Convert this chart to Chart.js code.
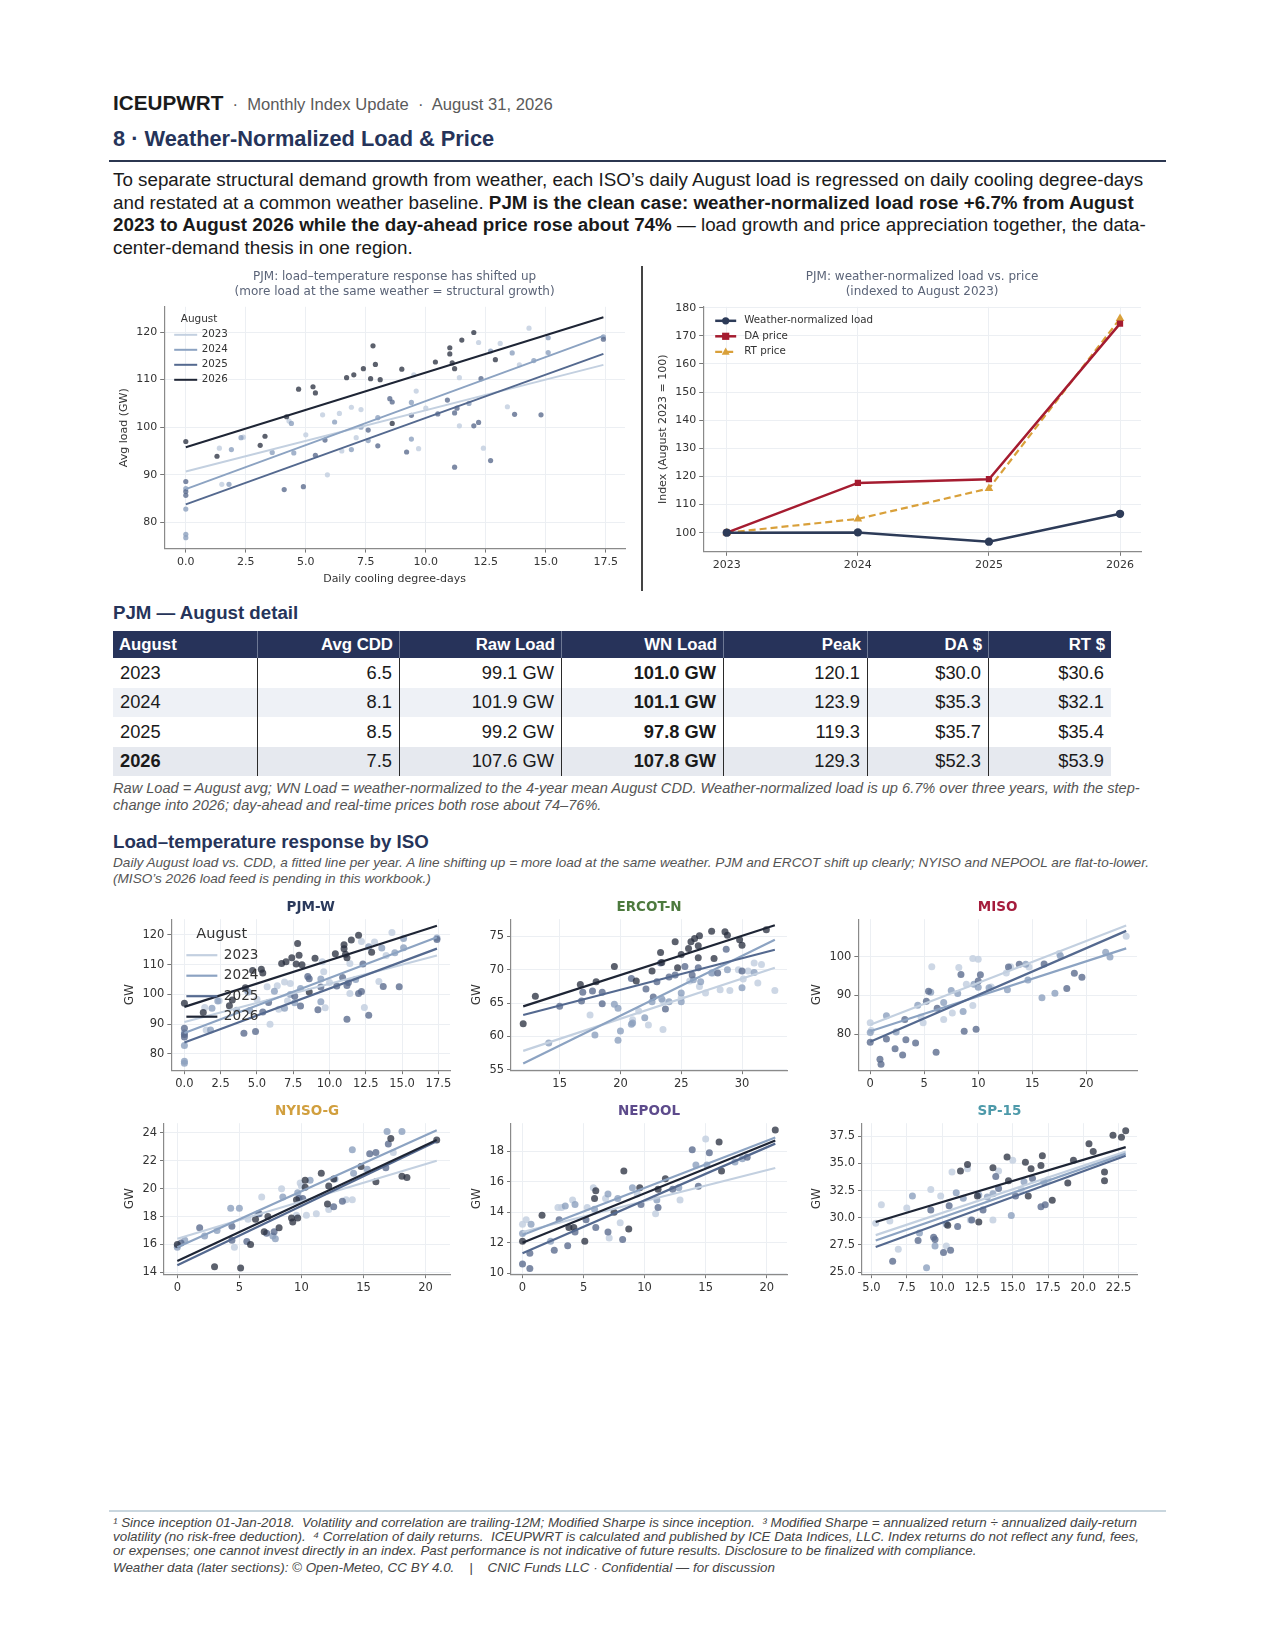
<!DOCTYPE html>
<html><head><meta charset="utf-8">
<script src="https://cdn.jsdelivr.net/npm/chart.js@4.4.1/dist/chart.umd.min.js"></script>
<style>
html,body{margin:0;padding:0;background:#fff;}
body{width:1275px;height:1650px;position:relative;font-family:"Liberation Sans",Arial,sans-serif;color:#1e1e1e;overflow:hidden;}
.abs{position:absolute;white-space:nowrap;}
.navy{color:#26345a;}
.box{position:absolute;}
table.det{position:absolute;left:113px;top:631px;border-collapse:collapse;font-family:"Liberation Sans",Arial,sans-serif;}
table.det th{background:#27335a;color:#fff;font-weight:bold;font-size:16.8px;height:27px;padding:0 6px;text-align:right;border-left:1px solid #6d7894;}
table.det th:first-child{text-align:left;border-left:none;}
table.det td{font-size:18.3px;height:29.5px;padding:0 7px;text-align:right;border-left:1.5px solid #2a2a2a;color:#1a1a1a;}
table.det td:first-child{text-align:left;border-left:none;}
table.det tr.alt td{background:#eef1f6;}
table.det tr.last td{background:#e6e9ef;}
.b{font-weight:bold;}
.note{font-style:italic;color:#555;}
</style></head>
<body>
<div class="abs" style="left:113px;top:90px;line-height:26px;"><span style="font-weight:bold;font-size:20.7px;color:#1b1b1b;">ICEUPWRT</span><span style="font-size:16.6px;color:#5a5a5a;"> &nbsp;·&nbsp; Monthly Index Update &nbsp;·&nbsp; August 31, 2026</span></div>
<div class="abs navy" style="left:113px;top:126px;font-size:21.8px;font-weight:bold;line-height:26px;">8 · Weather-Normalized Load &amp; Price</div>
<div class="abs" style="left:109px;top:160px;width:1057px;height:2px;background:#2b3650;"></div>
<div class="abs" style="left:113px;top:169px;font-size:18.8px;line-height:22.6px;color:#1a1a1a;">To separate structural demand growth from weather, each ISO’s daily August load is regressed on daily cooling degree-days<br>and restated at a common weather baseline. <b>PJM is the clean case: weather-normalized load rose +6.7% from August</b><br><b>2023 to August 2026 while the day-ahead price rose about 74%</b> — load growth and price appreciation together, the data-<br>center-demand thesis in one region.</div>

<div class="box" style="left:113px;top:266px;width:522px;height:322px;"><canvas id="c1"></canvas></div>
<div class="abs" style="left:641px;top:266px;width:1.5px;height:325px;background:#444;"></div>
<div class="box" style="left:648px;top:266px;width:505px;height:322px;"><canvas id="c2"></canvas></div>

<div class="abs navy" style="left:113px;top:602px;font-size:18.7px;font-weight:bold;line-height:22px;">PJM — August detail</div>
<table class="det" id="tbl"></table>
<div class="abs note" style="left:113px;top:780px;font-size:14.6px;line-height:16.8px;">Raw Load = August avg; WN Load = weather-normalized to the 4-year mean August CDD. Weather-normalized load is up 6.7% over three years, with the step-<br>change into 2026; day-ahead and real-time prices both rose about 74–76%.</div>
<div class="abs navy" style="left:113px;top:831px;font-size:18.7px;font-weight:bold;line-height:22px;">Load–temperature response by ISO</div>
<div class="abs note" style="left:113px;top:855px;font-size:13.6px;line-height:16px;">Daily August load vs. CDD, a fitted line per year. A line shifting up = more load at the same weather. PJM and ERCOT shift up clearly; NYISO and NEPOOL are flat-to-lower.<br>(MISO’s 2026 load feed is pending in this workbook.)</div>

<div class="box" style="left:113px;top:897px;width:345px;height:197px;"><canvas id="s1"></canvas></div>
<div class="box" style="left:460px;top:897px;width:335px;height:197px;"><canvas id="s2"></canvas></div>
<div class="box" style="left:800px;top:897px;width:345px;height:197px;"><canvas id="s3"></canvas></div>
<div class="box" style="left:113px;top:1101px;width:345px;height:197px;"><canvas id="s4"></canvas></div>
<div class="box" style="left:460px;top:1101px;width:335px;height:197px;"><canvas id="s5"></canvas></div>
<div class="box" style="left:800px;top:1101px;width:345px;height:197px;"><canvas id="s6"></canvas></div>

<div class="abs" style="left:109px;top:1510px;width:1057px;height:1.5px;background:#c9d6de;"></div>
<div class="abs note" style="left:113px;top:1516px;font-size:13.4px;line-height:13.8px;color:#444;">¹ Since inception 01-Jan-2018.&nbsp; Volatility and correlation are trailing-12M; Modified Sharpe is since inception.&nbsp; ³ Modified Sharpe = annualized return ÷ annualized daily-return<br>volatility (no risk-free deduction).&nbsp; ⁴ Correlation of daily returns.&nbsp; ICEUPWRT is calculated and published by ICE Data Indices, LLC. Index returns do not reflect any fund, fees,<br>or expenses; one cannot invest directly in an index. Past performance is not indicative of future results. Disclosure to be finalized with compliance.</div>
<div class="abs note" style="left:113px;top:1561px;font-size:13.4px;line-height:14px;color:#444;">Weather data (later sections): © Open-Meteo, CC BY 4.0. &nbsp;&nbsp; | &nbsp;&nbsp; CNIC Funds LLC · Confidential — for discussion</div>

<script>
// ---------- DATA ----------
const years = ['2023','2024','2025','2026'];

// table
const tblHead = ['August','Avg CDD','Raw Load','WN Load','Peak','DA $','RT $'];
const tblYears = ['2023','2024','2025','2026'];
const tblCdd = ['6.5','8.1','8.5','7.5'];
const tblRaw = ['99.1 GW','101.9 GW','99.2 GW','107.6 GW'];
const tblWn = ['101.0 GW','101.1 GW','97.8 GW','107.8 GW'];
const tblPeak = ['120.1','123.9','119.3','129.3'];
const tblDa = ['$30.0','$35.3','$35.7','$52.3'];
const tblRt = ['$30.6','$32.1','$35.4','$53.9'];

// index chart
const idxYears = [2023, 2024, 2025, 2026];
const idxLabels = ['Weather-normalized load', 'DA price', 'RT price'];
const wnIdx = [100, 100.1, 96.8, 106.7];
const daIdx = [100, 117.7, 119.0, 174.3];
const rtIdx = [100, 104.9, 115.7, 176.1];

// PJM scatter (main chart and PJM-W panel)
const pjm2023 = [[1.4,95.6],[1.5,88],[2.4,97.9],[4.3,101.3],[5.0,98.4],[5.7,102.6],[5.9,90],[6.4,102.9],[6.9,104.2],[7.3,103.7],[7.1,97.8],[9.5,111],[9.6,107.6],[9.7,95.5],[10.0,104],[11.4,100.3],[11.4,110.4],[12.2,117.8],[12.4,95.6],[13.1,117.6],[13.4,104.3],[13.9,113.1],[14.3,120.8],[6.5,95]];
const pjm2024 = [[0,77.5],[0,76.8],[0,82.8],[0,87.1],[1.8,88],[1.9,95.3],[2.3,97.8],[3.6,94.7],[4.4,100.8],[4.5,94.6],[6.2,101.1],[6.9,95.3],[7.3,100],[7.6,97.2],[8.0,102],[9.4,105.2],[9.4,97.5],[11.8,105],[12.7,116],[13.6,115.6],[14.5,114],[15.1,115.7],[15.1,118.8],[17.4,119]];
const pjm2025 = [[0,86.5],[0,85.7],[0,88.6],[4.1,86.9],[4.9,87.5],[5.4,94.1],[5.8,97.3],[7.6,99.4],[8.0,96.1],[8.5,106],[8.6,105.3],[9.2,94.8],[9.4,102.5],[10.5,102.8],[10.9,105.7],[11.2,103],[11.3,104],[11.2,91.6],[12.0,100.3],[12.2,101],[12.3,110.2],[12.7,93],[13.7,102.7],[14.8,102.6],[17.4,118.5]];
const pjm2026 = [[0,97],[1.3,93.9],[3.1,96.2],[3.3,98.1],[4.2,102.2],[4.7,108],[5.3,108.5],[5.4,107.2],[6.7,110.4],[7.0,111],[7.4,112.3],[7.7,110.2],[7.8,117.1],[7.9,113.2],[8.1,110],[9.0,112.2],[10.4,113.7],[11.0,116.7],[11.0,115.4],[11.1,113.5],[11.2,112.3],[11.5,118.3],[12.0,119.9],[12.9,114.2],[8.6,100.8]];
const pjmFitX = [0, 17.4];
const pjmFitStart = [90.7, 87.0, 83.8, 95.8];
const pjmFitEnd = [113.1, 119.2, 115.4, 123.1];

// ERCOT-N
const ercot2023 = [[17.5,63.2],[21,62.5],[22.3,61.7],[23.5,61],[23.5,65.3],[25,65.8],[25.7,68.3],[26.5,67.5],[27.6,69.5],[28.2,67],[29,66.9],[29.7,70],[30.1,68.6],[30.5,69.8],[31,71],[31.3,68],[31.6,70.8],[32.7,66.9],[27,66.5],[21.5,63.8]];
const ercot2024 = [[14.1,59],[17.9,60.2],[19.8,59.4],[20,60.8],[20.9,61.8],[21,62],[22,62.8],[22.6,65.2],[23.4,65.6],[24,65.2],[25,66.5],[25,65.2],[26,68.5],[26.6,68.2],[27.5,69.5],[28.8,70],[30,67.3],[31,69.6],[19.8,64.2],[19.5,64.8]];
const ercot2025 = [[15,64.5],[16.9,66.6],[17.7,66.8],[18.5,66.6],[18.5,64.9],[20.9,68.7],[22.7,65.9],[23,68.2],[23.3,71],[23.7,64.1],[24,68.9],[24.5,69.2],[25.3,70.5],[25.9,69.2],[26.4,70.3],[28,69.5],[28.7,73.1],[30,69.8],[22.1,67.1],[16.8,65.3]];
const ercot2026 = [[12,61.9],[13,66],[16.7,67.8],[18,68.2],[19.5,70.5],[21.3,68.3],[22.6,69.8],[23.3,72.6],[23.4,71.1],[24.5,74.2],[24.7,70.3],[25,72.3],[25.6,73.2],[25.8,74.2],[26.1,74.7],[26.5,75.1],[26.4,73.6],[27.5,75.8],[27.7,71.7],[28.6,75.7],[28.8,75.2],[29.8,74.5],[30,73.7],[32,76],[26.4,71.8]];
const ercotFitX = [12, 32.7];
const ercotFitStart = [57.8, 55.9, 63.2, 64.5];
const ercotFitEnd = [70.3, 74.5, 73.0, 76.7];

// MISO (no 2026)
const miso2023 = [[0,83],[0.1,81],[4.7,84.5],[5.7,97.4],[6.8,83.8],[8.2,97.2],[8.9,92.9],[9.5,87.4],[9.5,99.5],[10,99.3],[11.2,92.2],[12.6,95.8],[13,97.4],[14.7,97.3],[17.5,100.8],[23.7,105.2],[7.6,85.5],[4.9,83]];
const miso2024 = [[0,80.5],[1.5,84.8],[2.4,80.6],[4.4,87.5],[5.6,90.8],[6.8,88.2],[7.5,91.3],[8.1,90.5],[8.6,85.9],[9.6,92.9],[10,92.1],[11,92],[12.7,91.5],[14.6,94],[15.9,89.4],[17.1,90.6],[17.6,100.2],[21.8,101.1],[22.2,99.9],[14.4,98]];
const miso2025 = [[0,78],[0.9,73.6],[1,72.3],[1.5,78.8],[2.3,76.3],[3,74.7],[3.3,78.6],[4.2,77.8],[5.2,88.5],[6.1,75.4],[6.2,86.7],[8.4,95.4],[8.7,80.8],[9.8,81.3],[10.2,95.3],[10,93.7],[12.8,97.3],[13.8,98],[16.1,98.1],[18.2,91.8],[18.9,95.7],[19.6,94.7],[3.2,83.8],[5.4,91.1]];
const misoFitX = [0, 23.7];
const misoFitStart = [82.5, 80.8, 78.1];
const misoFitEnd = [108.0, 102.1, 106.6];

// NYISO-G
const nyiso2023 = [[0,15.9],[4.6,15.8],[6.8,19.4],[8.4,20],[9.6,18.1],[10,20.2],[10.4,18.1],[11.2,18.2],[12.2,18.5],[13.6,19.2],[14.1,19.2],[17.4,22.6],[5.7,17.8],[9.9,20.4]];
const nyiso2024 = [[0,15.8],[0.6,16.3],[2.2,16.6],[4.3,18.6],[5,18.6],[6.5,18.2],[7.9,16.4],[8.5,19.4],[9.7,19.7],[10.7,20.6],[12.7,20.7],[14.1,22.8],[14.2,21.1],[15.3,21.4],[16.9,24.1],[18.1,24.1],[3.2,17],[7.7,16.6]];
const nyiso2025 = [[0.3,16.1],[1.8,17.2],[4.4,17.3],[5.6,16.2],[7.2,16.8],[7.8,16.9],[9.8,19.3],[10.1,19.3],[12.6,18.7],[13.3,19.1],[15.5,22.5],[16,22.6],[16.8,21.5],[17,23.2],[4.4,16.3],[6.6,18.2]];
const nyiso2026 = [[0,16],[3,14.4],[5.1,14.3],[5.9,16],[6.3,17.8],[7,16.9],[7.3,18],[8.2,17.2],[9.2,17.9],[9.3,17.6],[9.6,19.2],[9.7,17.9],[10.3,20.6],[10.3,20.1],[11.6,21.1],[12.1,18.9],[12.2,20.2],[12.6,20.7],[14.8,21.6],[16,20.5],[17.2,23.6],[18.1,20.9],[18.5,20.8],[20.9,23.5]];
const nyisoFitX = [0, 20.9];
const nyisoFitStart = [16.4, 15.8, 14.5, 14.8];
const nyisoFitEnd = [22.0, 24.2, 23.4, 23.5];

// NEPOOL
const nepool2023 = [[0,13.2],[0.3,13.5],[2.9,14.3],[4.1,14.8],[5.3,14.3],[5.8,15.6],[7.1,12.3],[8,13.3],[9.4,15.2],[10.9,13.9],[12.9,14.8],[15,18.8],[3.2,14.3],[6.8,14.9]];
const nepool2024 = [[0,12.6],[0.7,13.2],[2.3,12.1],[3.5,14.4],[4.3,14.5],[5.9,14.2],[7,15.2],[9,15.6],[11,14.8],[12.8,15.6],[14.2,17.1],[15.1,17.1],[17.4,17.3],[18,17.5],[7.8,14.9]];
const nepool2025 = [[0,10.6],[0.6,10.3],[0.6,11.3],[2.6,11.5],[3.7,11.8],[4.3,12.7],[5.2,13.5],[6,13],[7,12.7],[8.2,12.2],[9.7,14.5],[11.1,14.3],[12.3,15.5],[13.9,18.1],[15.3,17.9],[18.4,17.6],[14.4,15.7],[3,13.5]];
const nepool2026 = [[0,12.1],[1.6,13.8],[4.2,13],[5.1,12.1],[5.9,14.9],[6,15.4],[8.3,16.7],[8.7,12.9],[9.6,15.6],[11.1,15.5],[11.7,16.2],[16.1,18.6],[16.3,16.7],[20.7,19.4],[3.8,13],[7.5,14]];
const nepoolFitX = [0, 20.7];
const nepoolFitStart = [12.7, 12.5, 11.3, 12.0];
const nepoolFitEnd = [16.9, 18.9, 18.5, 18.7];

// SP-15
const sp2023 = [[5.3,29.5],[5.7,31.2],[6.9,27.1],[7.5,30.9],[9.2,32.6],[10.3,27.4],[10.7,34.2],[11.8,34.5],[12,29.8],[13.6,29.8],[14,34.3],[15,35.3],[15.6,32.6],[17.5,33.5],[6.3,29.7],[9.9,32]];
const sp2024 = [[7.9,32],[8.9,25.4],[9.5,27.4],[10.3,29.4],[11.5,31.8],[12.6,32.1],[13.6,32.2],[14.9,30.2],[15.8,33.3],[17.2,33.3],[8.4,28.6],[11,32.3],[13.2,31.9]];
const sp2025 = [[6.5,26],[8.3,27.9],[9.4,28.2],[9.5,28],[10.1,26.8],[10.6,27],[10.5,31.1],[11.1,29.2],[12.1,29.8],[12.9,30.7],[13.8,33.8],[15.2,32],[16.4,33.6],[17,31],[17.3,31.2],[9.2,30.7],[14,32.7]];
const sp2026 = [[10.4,29.3],[11.3,34.3],[11.8,34.9],[12.6,29.6],[13.6,34.6],[14.6,35.6],[15.9,35.1],[16.3,34.5],[17,34.8],[17.1,35.7],[17.8,31.6],[18.9,33.2],[19.3,35.3],[20.4,36.8],[20.7,36.1],[21.5,34.2],[21.5,33.4],[22.1,37.6],[22.7,37.4],[23,38],[12.5,32],[14.7,33.4],[16.1,32]];
const spFitX = [5.3, 23.0];
const spFitStart = [28.4, 27.9, 27.3, 29.6];
const spFitEnd = [36.1, 35.9, 35.7, 36.5];

// ---------- STYLE ----------
const lineColors = ['#c3d0e0', '#8ca3c2', '#54698f', '#1e2535'];
const ptColors = ['rgba(196,208,224,0.85)', 'rgba(140,160,190,0.8)', 'rgba(88,105,140,0.78)', 'rgba(38,44,60,0.75)'];

// ---------- TABLE ----------
(function(){
  const t = document.getElementById('tbl');
  const widths = [145,142,162,162,144,121,123];
  let h = '<tr>' + tblHead.map((s,i)=>'<th style="width:'+(widths[i]-13)+'px">'+s+'</th>').join('') + '</tr>';
  tblYears.forEach((y,i)=>{
    const cls = i===1 ? 'alt' : (i===3 ? 'last' : '');
    h += '<tr class="'+cls+'"><td'+(i===3?' class="b"':'')+'>'+y+'</td><td>'+tblCdd[i]+'</td><td>'+tblRaw[i]+'</td><td class="b">'+tblWn[i]+'</td><td>'+tblPeak[i]+'</td><td>'+tblDa[i]+'</td><td>'+tblRt[i]+'</td></tr>';
  });
  t.innerHTML = h;
})();

// ---------- CHARTS ----------
Chart.defaults.font.family = "'DejaVu Sans', sans-serif";
Chart.defaults.animation = false;
Chart.defaults.plugins.tooltip.enabled = false;
Chart.defaults.plugins.legend.display = false;
Chart.defaults.responsive = true;
Chart.defaults.maintainAspectRatio = false;

// legend drawn inside the plot area (matplotlib style)
const inLegend = {
  id: 'inLegend',
  afterDatasetsDraw(chart, args, o) {
    if (!o || !o.show) return;
    const ctx = chart.ctx, a = chart.chartArea;
    let x = a.left + o.dx, y = a.top + o.dy;
    ctx.save();
    ctx.textBaseline = 'middle'; ctx.textAlign = 'left';
    if (o.title) {
      ctx.font = o.titleFs + "px 'DejaVu Sans'"; ctx.fillStyle = '#333';
      ctx.fillText(o.title, x + o.titleDx, y); y += o.titleGap;
    }
    chart.data.datasets.forEach((d) => {
      if (!d.inLegend) return;
      ctx.strokeStyle = d.borderColor; ctx.lineWidth = d.borderWidth;
      ctx.setLineDash(d.borderDash || []);
      ctx.beginPath(); ctx.moveTo(x, y); ctx.lineTo(x + o.w, y); ctx.stroke(); ctx.setLineDash([]);
      if (d.legendMarker) {
        const cx = x + o.w / 2, r = o.mr;
        ctx.fillStyle = d.borderColor; ctx.beginPath();
        if (d.legendMarker === 'circle') ctx.arc(cx, y, r, 0, Math.PI * 2);
        else if (d.legendMarker === 'rect') ctx.rect(cx - r, y - r, 2 * r, 2 * r);
        else { ctx.moveTo(cx, y - r * 1.2); ctx.lineTo(cx + r * 1.1, y + r * 0.8); ctx.lineTo(cx - r * 1.1, y + r * 0.8); ctx.closePath(); }
        ctx.fill();
      }
      ctx.fillStyle = '#333'; ctx.font = o.fs + "px 'DejaVu Sans'";
      ctx.fillText(d.label, x + o.w + o.gap, y);
      y += o.row;
    });
    ctx.restore();
  }
};

function axis(min, max, step, dec, fs, title, titleFs) {
  return {
    type: 'linear', min: min, max: max,
    ticks: { stepSize: step, includeBounds: false, color: '#333', font: { size: fs }, padding: 3,
      callback: (v) => dec === null ? String(Math.round(v)) : Number(v).toFixed(dec) },
    grid: { color: '#eceff3', tickColor: '#777', tickLength: 4, lineWidth: 1 },
    border: { color: '#8a8a8a', width: 1.2 },
    title: title ? { display: true, text: title, color: '#333', font: { size: titleFs }, padding: { top: 1, bottom: 2 } } : { display: false }
  };
}

function scatterChart(id, cfg) {
  const ds = [];
  cfg.pts.forEach((p, i) => {
    ds.push({ type: 'line', label: years[i], inLegend: !!cfg.legend, data: [{ x: cfg.fitX[0], y: cfg.fitStart[i] }, { x: cfg.fitX[1], y: cfg.fitEnd[i] }],
      borderColor: lineColors[i], backgroundColor: lineColors[i], borderWidth: cfg.lw, pointRadius: 0, fill: false, order: 1.9 - i * 0.1 });
  });
  cfg.pts.forEach((p, i) => {
    ds.push({ type: 'scatter', label: years[i] + ' pts', data: p.map(q => ({ x: q[0], y: q[1] })),
      backgroundColor: ptColors[i], borderWidth: 0, pointRadius: cfg.r, order: 3 - i * 0.1 });
  });
  return new Chart(document.getElementById(id), {
    type: 'scatter',
    data: { datasets: ds },
    plugins: [inLegend],
    options: {
      layout: { padding: cfg.pad },
      plugins: {
        title: { display: true, fullSize: false, text: cfg.title, color: cfg.titleColor, font: { size: cfg.titleFs, weight: cfg.titleWeight }, padding: { top: 0, bottom: cfg.titlePadB } },
        inLegend: cfg.legend ? Object.assign({ show: true, title: 'August' }, cfg.legend) : { show: false }
      },
      scales: {
        x: axis(cfg.x[0], cfg.x[1], cfg.x[2], cfg.x[3], cfg.tickFs, cfg.xTitle, cfg.axTitleFs),
        y: axis(cfg.y[0], cfg.y[1], cfg.y[2], cfg.y[3], cfg.tickFs, cfg.yTitle, cfg.axTitleFs)
      }
    }
  });
}

// main PJM scatter
scatterChart('c1', {
  pts: [pjm2023, pjm2024, pjm2025, pjm2026], fitX: pjmFitX, fitStart: pjmFitStart, fitEnd: pjmFitEnd,
  lw: 2, r: 2.6, pad: { left: 4, right: 10, top: 4, bottom: 0 },
  title: ['PJM: load–temperature response has shifted up', '(more load at the same weather = structural growth)'],
  titleColor: '#5b6478', titleFs: 12, titleWeight: 'normal', titlePadB: 8,
  legend: { dx: 10, dy: 12.5, titleDx: 6.5, titleFs: 10.5, titleGap: 15.5, fs: 10.3, w: 23, gap: 4.5, row: 15 },
  x: [-0.9, 18.3, 2.5, 1], y: [74.5, 125.3, 10, null], tickFs: 11,
  xTitle: 'Daily cooling degree-days', yTitle: 'Avg load (GW)', axTitleFs: 11
});

const small = { lw: 2.2, r: 3.5, titleFs: 13.5, titleWeight: 'bold', titlePadB: 4, tickFs: 11.5, axTitleFs: 12, yTitle: 'GW', xTitle: null, pad: { left: 9, right: 8, top: 2, bottom: 0 } };

scatterChart('s1', Object.assign({}, small, {
  pts: [pjm2023, pjm2024, pjm2025, pjm2026], fitX: pjmFitX, fitStart: pjmFitStart, fitEnd: pjmFitEnd,
  title: 'PJM-W', titleColor: '#2b3a5c',
  legend: { dx: 15, dy: 15, titleDx: 10, titleFs: 14.5, titleGap: 21, fs: 13.6, w: 31, gap: 6.5, row: 20.5 },
  x: [-0.9, 18.3, 2.5, 1], y: [74.5, 125.3, 10, null]
}));
scatterChart('s2', Object.assign({}, small, {
  pts: [ercot2023, ercot2024, ercot2025, ercot2026], fitX: ercotFitX, fitStart: ercotFitStart, fitEnd: ercotFitEnd,
  title: 'ERCOT-N', titleColor: '#4d7a3e', legend: null,
  x: [11.0, 33.7, 5, null], y: [54.9, 77.6, 5, null]
}));
scatterChart('s3', Object.assign({}, small, {
  pts: [miso2023, miso2024, miso2025], fitX: misoFitX, fitStart: misoFitStart, fitEnd: misoFitEnd,
  title: 'MISO', titleColor: '#a51c3c', legend: null,
  x: [-1.1, 24.7, 5, null], y: [70.8, 109.6, 10, null]
}));
scatterChart('s4', Object.assign({}, small, {
  pts: [nyiso2023, nyiso2024, nyiso2025, nyiso2026], fitX: nyisoFitX, fitStart: nyisoFitStart, fitEnd: nyisoFitEnd,
  title: 'NYISO-G', titleColor: '#d19f3e', legend: null,
  x: [-1.07, 21.97, 5, null], y: [13.86, 24.7, 2, null]
}));
scatterChart('s5', Object.assign({}, small, {
  pts: [nepool2023, nepool2024, nepool2025, nepool2026], fitX: nepoolFitX, fitStart: nepoolFitStart, fitEnd: nepoolFitEnd,
  title: 'NEPOOL', titleColor: '#5d4b8c', legend: null,
  x: [-0.94, 21.66, 5, null], y: [9.93, 19.84, 2, null]
}));
scatterChart('s6', Object.assign({}, small, {
  pts: [sp2023, sp2024, sp2025, sp2026], fitX: spFitX, fitStart: spFitStart, fitEnd: spFitEnd,
  title: 'SP-15', titleColor: '#4e9aaa', legend: null,
  x: [4.33, 23.8, 2.5, 1], y: [24.8, 38.7, 2.5, 1]
}));

// index chart
const idxColors = ['#2d3b58', '#a51c30', '#d9a03a'];
const idxMarkers = ['circle', 'rect', 'triangle'];
const idxSeries = [wnIdx, daIdx, rtIdx];
new Chart(document.getElementById('c2'), {
  type: 'line',
  data: {
    datasets: idxSeries.map((s, k) => ({
      label: idxLabels[k], inLegend: true, legendMarker: idxMarkers[k] === 'triangle' ? 'tri' : idxMarkers[k],
      data: idxYears.map((y, i) => ({ x: y, y: s[i] })),
      borderColor: idxColors[k], backgroundColor: idxColors[k],
      borderWidth: k === 2 ? 2.2 : 2.5, borderDash: k === 2 ? [7, 4] : [],
      pointStyle: idxMarkers[k], pointRadius: k === 0 ? 4.2 : (k === 1 ? 4.4 : 5), pointBorderWidth: 0
    }))
  },
  plugins: [inLegend],
  options: {
    layout: { padding: { left: 8, right: 12, top: 4, bottom: 13 } },
    plugins: {
      title: { display: true, fullSize: false, text: ['PJM: weather-normalized load vs. price', '(indexed to August 2023)'], color: '#5b6478', font: { size: 12, weight: 'normal' }, padding: { top: 0, bottom: 8 } },
      inLegend: { show: true, title: null, dx: 12, dy: 14, fs: 10.3, w: 21, gap: 8, row: 15.5, mr: 3.6 }
    },
    scales: {
      x: axis(2022.82, 2026.16, 1, 0, 11),
      y: axis(93.2, 180.3, 10, null, 11, 'Index (August 2023 = 100)', 11)
    }
  }
});
</script>
</body></html>
